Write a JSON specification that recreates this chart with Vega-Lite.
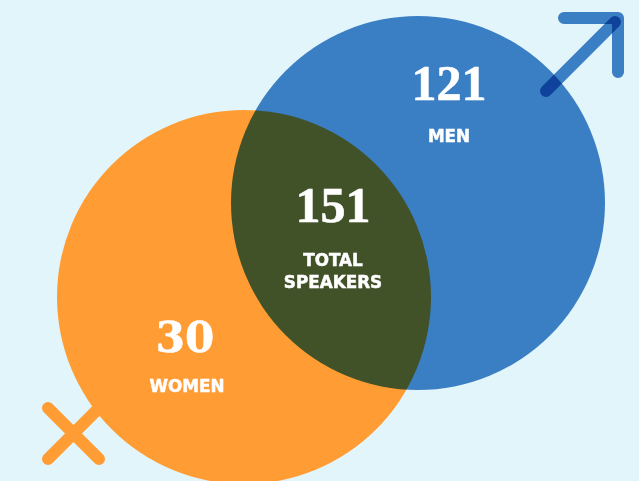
{
"$schema":"https://vega.github.io/schema/vega-lite/v6.json",
"width":639,"height":481,
"autosize":{"type":"none"},
"padding":0,
"background":"#e2f5fa",
"config":{"view":{"stroke":null}},
"datasets":{
"circles":[{"name":"Women","x":244,"y":297},{"name":"Men","x":418,"y":203}],
"female":[
{"s":"a","o":1,"x":48,"y":408},{"s":"a","o":2,"x":99,"y":459},
{"s":"b","o":1,"x":48,"y":459},{"s":"b","o":2,"x":104,"y":403}],
"male":[
{"s":"c","o":1,"x":564,"y":18},{"s":"c","o":2,"x":618,"y":18},{"s":"c","o":3,"x":618,"y":72},
{"s":"d","o":1,"x":546,"y":91},{"s":"d","o":2,"x":615,"y":22}],
"numbers":[{"t":"121","x":449,"y":100},{"t":"151","x":333,"y":222}],
"numbers2":[{"t":"30","x":185,"y":352}],
"labels":[{"t":"MEN","x":449,"y":142},{"t":"TOTAL","x":333,"y":266},{"t":"SPEAKERS","x":333,"y":288},{"t":"WOMEN","x":187,"y":392}]
},
"encoding":{
"x":{"field":"x","type":"quantitative","scale":{"domain":[0,639]},"axis":null},
"y":{"field":"y","type":"quantitative","scale":{"domain":[0,481],"reverse":true},"axis":null}
},
"layer":[
{"data":{"name":"circles"},"transform":[{"filter":"datum.name==='Women'"}],
 "mark":{"type":"point","filled":true,"opacity":1,"size":139876,"color":"#ff9c33","shape":"circle"}},
{"data":{"name":"female"},
 "mark":{"type":"line","color":"#ff9c33","strokeWidth":12,"strokeCap":"round"},
 "encoding":{"detail":{"field":"s"},"order":{"field":"o"}}},
{"data":{"name":"circles"},"transform":[{"filter":"datum.name==='Men'"}],
 "mark":{"type":"point","filled":true,"opacity":1,"size":139876,"color":"#4184c8","shape":"circle","blend":"multiply"}},
{"data":{"name":"male"},"transform":[{"filter":"datum.s==='c'"}],
 "mark":{"type":"line","color":"#4184c8","strokeWidth":12,"strokeCap":"round","strokeJoin":"round","blend":"multiply"},
 "encoding":{"order":{"field":"o"}}},
{"data":{"name":"male"},"transform":[{"filter":"datum.s==='d'"}],
 "mark":{"type":"line","color":"#4184c8","strokeWidth":12,"strokeCap":"round","blend":"multiply"},
 "encoding":{"order":{"field":"o"}}},
{"data":{"name":"numbers"},
 "mark":{"type":"text","color":"white","stroke":"white","strokeWidth":0.6,"font":"Liberation Serif","fontWeight":"bold","fontSize":50,"align":"center","baseline":"alphabetic"},
 "encoding":{"text":{"field":"t"}}},
{"data":{"name":"numbers2"},
 "mark":{"type":"text","color":"white","stroke":"white","strokeWidth":0.6,"font":"DejaVu Serif","fontWeight":"bold","fontSize":42,"align":"center","baseline":"alphabetic"},
 "encoding":{"text":{"field":"t"}}},
{"data":{"name":"labels"},
 "mark":{"type":"text","color":"white","stroke":"white","strokeWidth":0.5,"font":"DejaVu Sans","fontWeight":"bold","fontSize":16.8,"align":"center","baseline":"alphabetic"},
 "encoding":{"text":{"field":"t"}}}
]
}
